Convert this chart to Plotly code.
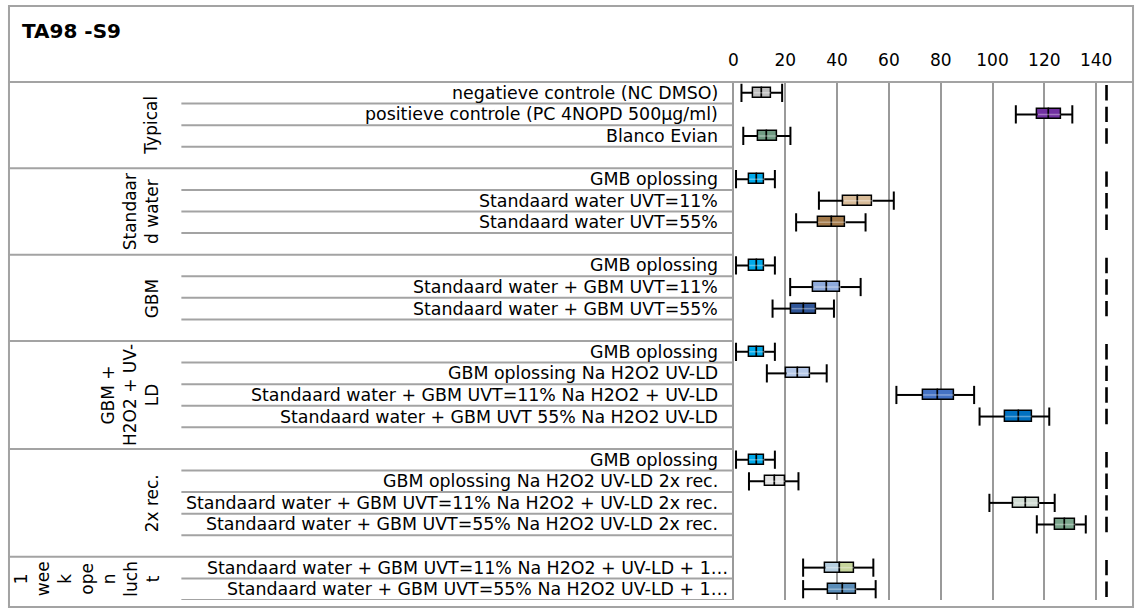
import plotly.graph_objects as go

# ---------------- data ----------------
title_text = "TA98 -S9"
group_names = ["Typical", "Standaar<br>d water", "GBM", "GBM +<br>H2O2 + UV-<br>LD",
               "2x rec.", "1<br>wee<br>k<br>ope<br>n<br>luch<br>t"]
group_rows = [
    ["negatieve controle (NC DMSO)", "positieve controle (PC 4NOPD 500µg/ml)", "Blanco Evian"],
    ["GMB oplossing", "Standaard water UVT=11%", "Standaard water UVT=55%"],
    ["GMB oplossing", "Standaard water + GBM UVT=11%", "Standaard water + GBM UVT=55%"],
    ["GMB oplossing", "GBM oplossing Na H2O2 UV-LD",
     "Standaard water + GBM UVT=11% Na H2O2 + UV-LD", "Standaard water + GBM UVT 55% Na H2O2 UV-LD"],
    ["GMB oplossing", "GBM oplossing Na H2O2 UV-LD 2x rec.",
     "Standaard water + GBM UVT=11% Na H2O2 + UV-LD 2x rec.",
     "Standaard water + GBM UVT=55% Na H2O2 UV-LD 2x rec."],
    ["Standaard water + GBM UVT=11% Na H2O2 + UV-LD + 1…",
     "Standaard water + GBM UVT=55% Na H2O2 UV-LD + 1…"],
]
whisk_lo = [3.1, 109.0, 3.8, 1.0, 33.0, 24.2, 1.0, 21.9, 15.1, 1.0, 12.9, 62.9, 95.0,
            1.0, 6.0, 98.8, 117.1, 26.9, 26.9]
q1 = [7.6, 117.4, 9.5, 5.9, 42.4, 32.6, 5.9, 30.8, 22.3, 5.9, 20.5, 73.1, 104.7,
      5.9, 12.1, 108.0, 124.0, 35.5, 36.5]
median = [10.9, 121.9, 12.9, 9.0, 48.1, 38.1, 9.0, 36.2, 27.2, 9.0, 25.0, 79.1, 110.1,
          9.0, 16.0, 113.0, 128.1, 41.2, 42.3]
q3 = [14.4, 126.3, 16.7, 11.9, 53.7, 43.3, 11.9, 41.3, 31.8, 11.9, 29.6, 85.1, 115.1,
      11.9, 19.9, 118.0, 131.9, 46.5, 47.4]
whisk_hi = [18.8, 130.8, 22.0, 16.0, 61.9, 51.0, 16.0, 49.1, 38.8, 16.0, 36.0, 92.9, 121.9,
            16.0, 25.1, 124.0, 136.0, 54.0, 54.9]
ref_mark = [144.0] * 19
color_low = ["#bdbdbd", "#7030a0", "#6f9a83", "#00a9ea", "#d8bb98", "#a37a4b",
             "#00a9ea", "#8eaadb", "#2f5597", "#00a9ea", "#b4c7e7", "#4472c4", "#0070c0",
             "#00a9ea", "#e3e3e3", "#d0dbd3", "#79a48b", "#b7cfe0", "#5b8db8"]
color_high = ["#bdbdbd", "#7030a0", "#6f9a83", "#00a9ea", "#d8bb98", "#a37a4b",
              "#00a9ea", "#8eaadb", "#2f5597", "#00a9ea", "#b4c7e7", "#4472c4", "#0070c0",
              "#00a9ea", "#e3e3e3", "#d0dbd3", "#79a48b", "#c6d59c", "#5b8db8"]
x_ticks = [0, 20, 40, 60, 80, 100, 120, 140]

# ---------------- layout helpers ----------------
W, H = 1139, 612
FONT = "DejaVu Sans"
GRAY = "#a3a3a3"
px = lambda v: v / W
py = lambda v: 1 - v / H

slots, labels, group_span = [], [], []
s = 0
for gi, rows in enumerate(group_rows):
    start = s
    for r in rows:
        slots.append(s)
        labels.append(r)
        s += 1
    if gi < len(group_rows) - 1:
        s += 1
    group_span.append((start - 0.5, s - 0.5))
n_slots = s  # 24

fig = go.Figure()

# boxes (two halves so median is the shared edge)
fig.add_trace(go.Bar(orientation="h", y=slots, base=q1,
                     x=[m - a for m, a in zip(median, q1)], width=0.47,
                     marker=dict(color=color_low, line=dict(color="black", width=1.5)),
                     hoverinfo="skip", showlegend=False))
fig.add_trace(go.Bar(orientation="h", y=slots, base=median,
                     x=[b - m for m, b in zip(median, q3)], width=0.47,
                     marker=dict(color=color_high, line=dict(color="black", width=1.5)),
                     hoverinfo="skip", showlegend=False))

# light stripe through the box middle
sx, sy = [], []
for i, y in enumerate(slots):
    sx += [q1[i], q3[i], None]
    sy += [y, y, None]
fig.add_trace(go.Scatter(x=sx, y=sy, mode="lines",
                         line=dict(color="rgba(255,255,255,0.35)", width=1.5),
                         hoverinfo="skip", showlegend=False))

# whiskers
wx, wy = [], []
for i, y in enumerate(slots):
    wx += [whisk_lo[i], q1[i], None, q3[i], whisk_hi[i], None]
    wy += [y, y, None, y, y, None]
fig.add_trace(go.Scatter(x=wx, y=wy, mode="lines", line=dict(color="black", width=2),
                         hoverinfo="skip", showlegend=False))
fig.add_trace(go.Scatter(x=whisk_lo + whisk_hi, y=slots + slots, mode="markers",
                         marker=dict(symbol="line-ns", size=13,
                                     line=dict(color="black", width=2)),
                         hoverinfo="skip", showlegend=False))
# reference marks at the right
fig.add_trace(go.Scatter(x=ref_mark, y=slots, mode="markers",
                         marker=dict(symbol="line-ns", size=11,
                                     line=dict(color="black", width=2.6)),
                         hoverinfo="skip", showlegend=False))

# row labels
for y, t in zip(slots, labels):
    xr = 729 if t.endswith("…") else 719
    fig.add_annotation(x=px(xr), xref="paper", y=y, yref="y", text=t, showarrow=False,
                       xanchor="right", yanchor="middle",
                       font=dict(family=FONT, size=17.4, color="black"))

# group labels
for name, (a, b) in zip(group_names, group_span):
    nl = name.count("<br>") + 1
    xc = 148 - (nl - 1) * 21.5 / 2
    fig.add_annotation(x=px(xc), xref="paper", y=(a + b) / 2, yref="y", text=name,
                       showarrow=False, textangle=-90, xanchor="center", yanchor="middle",
                       align="center", font=dict(family=FONT, size=17, color="black"))

# title
fig.add_annotation(x=px(16), xref="paper", y=py(31), yref="paper", text="<b>" + title_text + "</b>",
                   showarrow=False, xanchor="left", yanchor="middle",
                   font=dict(family=FONT, size=20, color="black"))

# lines
shapes = []
shapes.append(dict(type="rect", xref="paper", yref="paper", x0=px(5), x1=px(1133),
                   y0=py(607), y1=py(6), line=dict(color=GRAY, width=2)))
shapes.append(dict(type="line", xref="paper", yref="paper", x0=px(5), x1=px(1133),
                   y0=py(82), y1=py(82), line=dict(color=GRAY, width=2)))
boundaries = [b for (_, b) in group_span]
for k in range(n_slots):
    yb = k + 0.5
    x0 = 5 if (yb in boundaries and k < n_slots - 1) else 178
    shapes.append(dict(type="line", xref="paper", yref="y", x0=px(x0), x1=px(731),
                       y0=yb, y1=yb, line=dict(color=GRAY, width=2)))

# axes: 2.6 px per unit, 0 at x=732
scale = 2.6
left_px = 732 - 0.5 * scale
right_px = 1125
xmax = (right_px - left_px) / scale - 0.5

fig.update_layout(
    width=W, height=H, margin=dict(l=0, r=0, t=0, b=0),
    paper_bgcolor="white", plot_bgcolor="rgba(0,0,0,0)",
    barmode="overlay", bargap=0, shapes=shapes, showlegend=False,
    xaxis=dict(domain=[px(left_px), px(right_px)], range=[-0.5, xmax], side="top",
               tickvals=x_ticks, ticktext=[str(v) for v in x_ticks], showgrid=True,
               gridcolor="#9a9a9a", gridwidth=2, zeroline=False, showline=False,
               ticks="", ticklabelstandoff=12,
               tickfont=dict(family=FONT, size=17, color="black"), fixedrange=True),
    yaxis=dict(domain=[py(600), py(82)], range=[n_slots - 0.5, -0.5], showgrid=False,
               zeroline=False, showticklabels=False, showline=False, fixedrange=True),
)

fig.write_html("out.html", config={"displayModeBar": False},
               post_script="document.body.style.margin='0';document.body.style.overflow='hidden';")
